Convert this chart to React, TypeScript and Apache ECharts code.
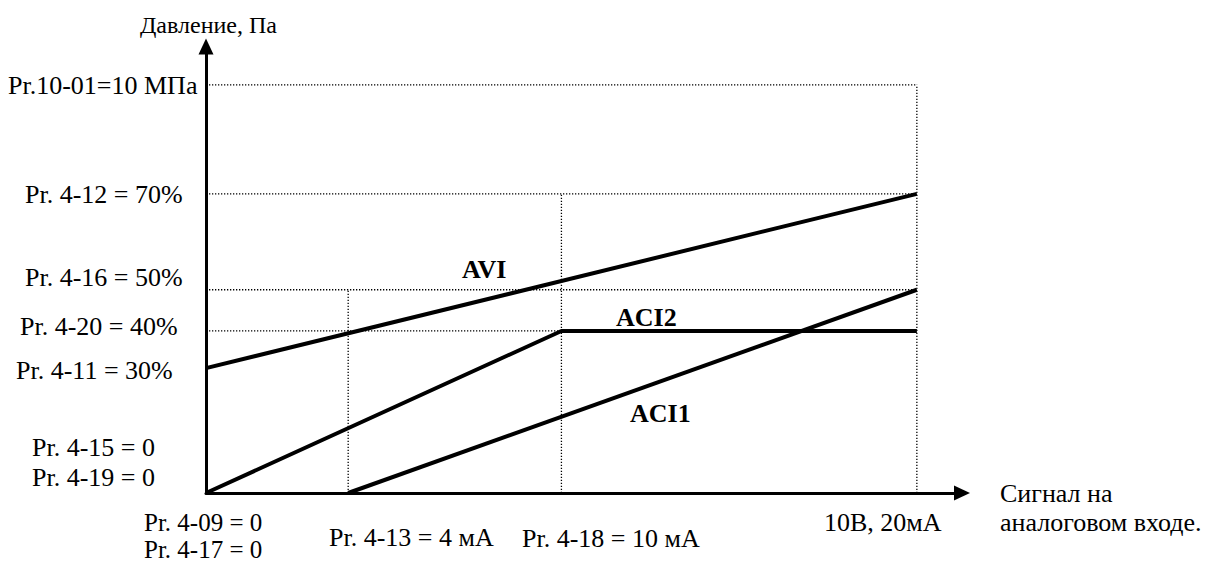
import React, { useEffect, useRef } from "react";
import * as echarts from "echarts";

// Signal (mA) vs pressure level as drawn (10 MPa level = 100)
const aviData: number[][] = [[0, 30.6], [20, 73.3]];
const aci2Data: number[][] = [[0, 0], [10, 39.7], [20, 39.7]];
const aci1Data: number[][] = [[4, 0], [20, 49.8]];

// dotted guide levels
const hGuideLevels: number[] = [100, 73.3, 49.8, 39.7];
const vGuideX: number[] = [4, 10, 20];
const vGuideTop: number[] = [49.8, 73.3, 100];

const seriesNames: string[] = ["AVI", "ACI2", "ACI1"];
const yAxisName = "Давление, Па";
const xAxisName: string[] = ["Сигнал на", "аналоговом входе."];
const yTickLabels: string[] = [
  "Pr.10-01=10 МПа",
  "Pr. 4-12 = 70%",
  "Pr. 4-16 = 50%",
  "Pr. 4-20 = 40%",
  "Pr. 4-11 = 30%",
  "Pr. 4-15 = 0",
  "Pr. 4-19 = 0",
];
const xTickLabels: string[] = [
  "Pr. 4-09 = 0",
  "Pr. 4-17 = 0",
  "Pr. 4-13 = 4 мА",
  "Pr. 4-18 = 10 мА",
  "10В, 20мА",
];

const FONT = "Liberation Serif";

export default function App() {
  const ref = useRef<HTMLDivElement>(null);
  useEffect(() => {
    if (!ref.current) return;
    const chart = echarts.init(ref.current, undefined, { renderer: "svg" });

    const guideStyle = { color: "#000", width: 1.3, type: [1.3, 1.7] as any };
    const guides: any[] = [];
    hGuideLevels.forEach((lv) => {
      guides.push({
        type: "line",
        data: [[0, lv], [20, lv]],
        symbol: "none",
        silent: true,
        lineStyle: guideStyle,
        z: 1,
      });
    });
    vGuideX.forEach((x, i) => {
      guides.push({
        type: "line",
        data: [[x, 0], [x, vGuideTop[i]]],
        symbol: "none",
        silent: true,
        lineStyle: guideStyle,
        z: 1,
      });
    });

    const mainLine = (name: string, data: number[][]) => ({
      type: "line",
      name,
      data,
      symbol: "none",
      silent: true,
      lineStyle: { color: "#000", width: 4 },
      z: 5,
    });

    const txt = (text: string, x: number, y: number, size = 26, bold = false) => ({
      type: "text",
      x,
      y,
      silent: true,
      style: {
        text,
        fill: "#000",
        fontFamily: FONT,
        fontSize: size,
        fontWeight: bold ? "bold" : "normal",
        align: "left",
        verticalAlign: "middle",
      },
    });

    const yPos: number[][] = [
      [8, 85], [25, 194], [25, 277], [20, 326], [16, 370], [32, 447], [32, 477],
    ];
    const xPos: number[][] = [
      [144, 522], [144, 549], [329, 537], [522, 538], [824, 522],
    ];
    const xSizes: number[] = [25, 25, 26, 26, 26];

    const graphics: any[] = [
      txt(yAxisName, 140, 25, 24),
      txt(xAxisName[0], 1000, 493),
      txt(xAxisName[1], 1000, 522),
      txt(seriesNames[0], 462, 269, 26, true),
      txt(seriesNames[1], 616, 317, 26, true),
      txt(seriesNames[2], 630, 413, 26, true),
    ];
    yTickLabels.forEach((t, i) => graphics.push(txt(t, yPos[i][0], yPos[i][1])));
    xTickLabels.forEach((t, i) => graphics.push(txt(t, xPos[i][0], xPos[i][1], xSizes[i])));

    chart.setOption({
      animation: false,
      backgroundColor: "#fff",
      grid: { left: 206, top: 46.5, width: 756, height: 446.5, containLabel: false },
      xAxis: {
        type: "value",
        min: 0,
        max: 21.27,
        axisLine: {
          show: true,
          onZero: false,
          symbol: ["none", "triangle"],
          symbolSize: [15, 16],
          lineStyle: { color: "#000", width: 3 },
        },
        axisTick: { show: false },
        axisLabel: { show: false },
        splitLine: { show: false },
      },
      yAxis: {
        type: "value",
        min: 0,
        max: 109.4,
        axisLine: {
          show: true,
          onZero: false,
          symbol: ["none", "triangle"],
          symbolSize: [15, 16],
          lineStyle: { color: "#000", width: 3 },
        },
        axisTick: { show: false },
        axisLabel: { show: false },
        splitLine: { show: false },
      },
      series: [
        ...guides,
        mainLine(seriesNames[0], aviData),
        mainLine(seriesNames[1], aci2Data),
        mainLine(seriesNames[2], aci1Data),
      ],
      graphic: graphics,
    });

    return () => chart.dispose();
  }, []);

  return (
    <div
      ref={ref}
      style={{ position: "fixed", left: 0, top: 0, width: 1210, height: 562, background: "#fff" }}
    />
  );
}
